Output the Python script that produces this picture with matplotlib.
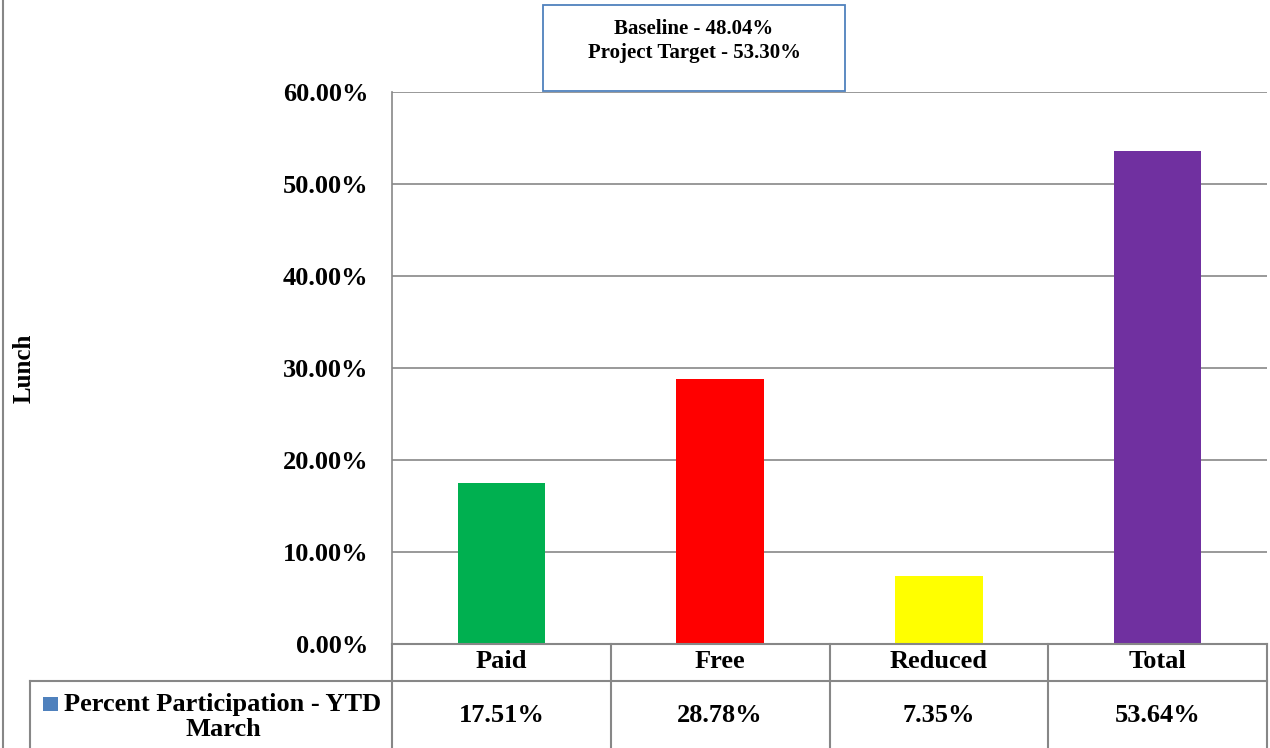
import matplotlib
matplotlib.use("Agg")
import matplotlib.pyplot as plt
from matplotlib.transforms import blended_transform_factory
from matplotlib.patches import Rectangle

categories = ["Paid", "Free", "Reduced", "Total"]
values = [0.1751, 0.2878, 0.0735, 0.5364]
value_labels = ["17.51%", "28.78%", "7.35%", "53.64%"]
bar_colors = ["#00B050", "#FF0000", "#FFFF00", "#7030A0"]
series_name = "Percent Participation - YTD\nMarch"
y_ticks = [0.0, 0.1, 0.2, 0.3, 0.4, 0.5, 0.6]
y_label = "Lunch"
box_text = "Baseline - 48.04%\nProject Target - 53.30%"

plt.rcParams['font.family'] = ['Liberation Serif', 'DejaVu Serif']
plt.rcParams['font.weight'] = 'bold'

W, H = 1270, 748
fig = plt.figure(figsize=(W / 100, H / 100), dpi=100)

def fx(px):
    return px / W

def fy(py):
    return 1 - py / H

ax_left, ax_right, ax_top, ax_bottom = 392, 1267, 92, 644
ax = fig.add_axes([fx(ax_left), fy(ax_bottom), (ax_right - ax_left) / W, (ax_bottom - ax_top) / H])

grid_col = "#878787"
FS = 19
x = list(range(len(categories)))
ax.bar(x, values, width=0.40, color=bar_colors, zorder=3)
ax.set_xlim(-0.5, len(categories) - 0.5)
ax.set_ylim(0, 0.6)
ax.set_yticks(y_ticks)
ax.set_yticklabels([f"{v*100:.2f}%" for v in y_ticks], fontsize=FS, fontweight='bold')
ax.tick_params(axis='y', length=0, pad=17)
ax.set_xticks([])
ax.yaxis.grid(True, color=grid_col, linewidth=1.2, zorder=0)
for s in ["top", "right", "bottom"]:
    ax.spines[s].set_visible(False)
ax.spines["left"].set_color(grid_col)
ax.spines["left"].set_linewidth(1.2)

# Data table beneath the axis
tr = blended_transform_factory(ax.transData, ax.transAxes)
hpx = ax_bottom - ax_top

def ay(py):
    return (ax_bottom - py) / hpx

row1 = ay(681)
row_bot = ay(760)
ax.plot([-0.5, len(categories) - 0.5], [0, 0], transform=tr, color=grid_col, lw=1.5, clip_on=False, zorder=4)
ax.plot([-0.5, len(categories) - 0.5], [row1, row1], transform=tr, color=grid_col, lw=1.5, clip_on=False)
for b in range(len(categories) + 1):
    ax.plot([b - 0.5, b - 0.5], [0, row_bot], transform=tr, color=grid_col, lw=1.5, clip_on=False)
for i, (c, lab) in enumerate(zip(categories, value_labels)):
    ax.text(i, ay(662), c, transform=tr, ha='center', va='center', fontsize=FS, fontweight='bold')
    ax.text(i, ay(716), lab, transform=tr, ha='center', va='center', fontsize=FS, fontweight='bold')

# series label cell
fig.add_artist(plt.Line2D([fx(30), fx(392)], [fy(681), fy(681)], color=grid_col, lw=1.5))
fig.add_artist(plt.Line2D([fx(30), fx(30)], [fy(681), fy(760)], color=grid_col, lw=1.5))
fig.add_artist(Rectangle((fx(43), fy(711)), 15 / W, 14 / H, facecolor="#4F81BD", edgecolor='none'))
fig.text(fx(223), fy(717), series_name, ha='center', va='center', fontsize=FS,
         fontweight='bold', multialignment='center', linespacing=1.15)

# y label
fig.text(fx(24), fy(368), y_label, rotation=90, ha='center', va='center', fontsize=18, fontweight='bold')

# annotation box
fig.add_artist(Rectangle((fx(543), fy(91)), (845 - 543) / W, (91 - 5) / H,
                         facecolor='white', edgecolor="#4F81BD", lw=1.3, zorder=5))
fig.text(fx(694), fy(41), box_text, ha='center', va='center', fontsize=15,
         fontweight='bold', multialignment='center', linespacing=1.22, zorder=6)

# outer border on the left
fig.add_artist(plt.Line2D([fx(3), fx(3)], [0, 1], color=grid_col, lw=1.5))

fig.savefig("out.png", dpi=100)
